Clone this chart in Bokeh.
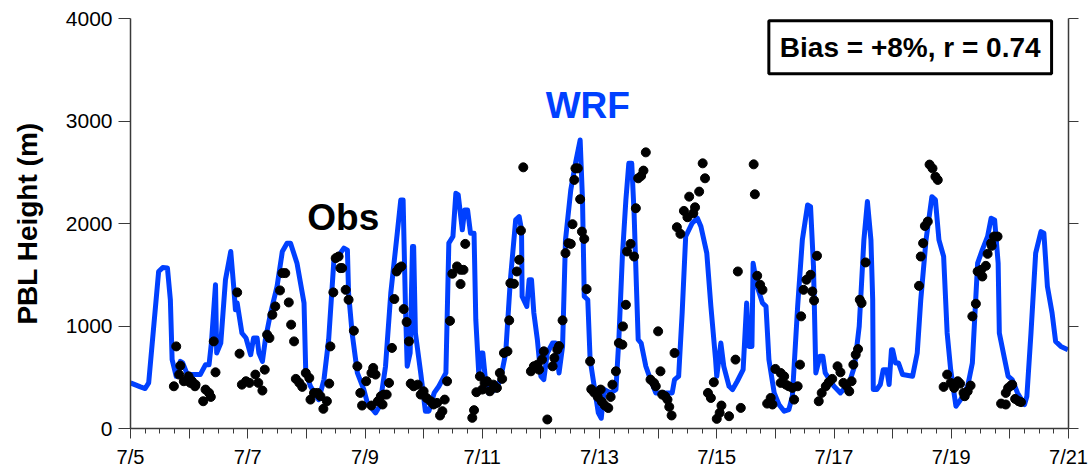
from bokeh.plotting import figure
from bokeh.models import FixedTicker, Label, LinearAxis, Range1d
from bokeh.embed import file_html
from bokeh.resources import INLINE

# ---- data (days since 7/5 00:00) ----
wrf_day = [0.00, 0.17, 0.25, 0.31, 0.48, 0.55, 0.63, 0.68, 0.71, 0.78, 0.85, 0.89, 0.97,
           1.19, 1.28, 1.34, 1.38, 1.45, 1.47, 1.54, 1.62, 1.71, 1.76, 1.79, 1.82, 1.90, 1.97,
           2.05, 2.10, 2.16, 2.19, 2.25, 2.30, 2.39, 2.50, 2.59, 2.67, 2.73, 2.84, 2.96, 2.99,
           3.07, 3.21, 3.30, 3.38, 3.47, 3.58, 3.64, 3.70, 3.72, 3.78, 3.87, 3.98,
           4.04, 4.18, 4.25, 4.35, 4.44, 4.55, 4.61, 4.65, 4.69, 4.72, 4.77, 4.81, 4.83, 4.86, 4.95,
           5.03, 5.09, 5.18, 5.26, 5.38, 5.43, 5.50, 5.55, 5.59, 5.66, 5.70, 5.75, 5.80, 5.86, 5.89, 5.94, 5.98,
           6.01, 6.06, 6.11, 6.23, 6.31, 6.40, 6.48, 6.57, 6.63, 6.67, 6.68, 6.76, 6.80, 6.84, 6.88, 6.94,
           7.00, 7.05, 7.11, 7.20, 7.25, 7.31, 7.37, 7.42, 7.51, 7.59, 7.67, 7.71, 7.74, 7.80, 7.84, 7.91, 7.98,
           8.03, 8.08, 8.19, 8.28, 8.33, 8.39, 8.45, 8.50, 8.55, 8.59, 8.63, 8.66, 8.71, 8.79, 8.87, 8.96,
           9.24, 9.28, 9.35, 9.41, 9.47, 9.58, 9.67, 9.73, 9.83, 9.90, 9.98,
           10.00, 10.07, 10.12, 10.21, 10.27, 10.35, 10.45, 10.51, 10.55, 10.60, 10.62, 10.69, 10.78, 10.84, 10.89, 10.98,
           11.06, 11.15, 11.23, 11.29, 11.38, 11.46, 11.55, 11.60, 11.65, 11.69, 11.76, 11.81, 11.85,
           12.00, 12.11, 12.26, 12.35, 12.43, 12.51, 12.57, 12.63, 12.66, 12.67, 12.73, 12.79, 12.84, 12.90, 12.94, 12.98,
           13.00, 13.05, 13.10, 13.17, 13.34, 13.42, 13.48, 13.57, 13.67, 13.73, 13.79, 13.87, 13.93, 13.99,
           14.08, 14.16, 14.28, 14.36, 14.45, 14.53, 14.62, 14.68, 14.74, 14.80, 14.82, 14.90, 14.97,
           15.04, 15.13, 15.25, 15.29, 15.36, 15.44, 15.53, 15.58, 15.64, 15.72, 15.78, 15.87, 15.99]
wrf_pbl = [445, 406, 390, 445, 1532, 1570, 1565, 1256, 672, 509, 655, 640, 526,
           526, 623, 623, 834, 1402, 737, 834, 1451, 1727, 1386, 1159, 1224, 932, 883,
           720, 883, 883, 737, 655, 867, 1127, 1386, 1727, 1808, 1808, 1613, 1224, 542,
           412, 282, 477, 867, 1646, 1711, 1760, 1740, 1321, 932, 542, 380,
           250, 153, 217, 607, 1321, 1905, 2230, 2230, 1191, 607, 737, 1775, 1775, 932, 542,
           169, 169, 347, 412, 542, 1808, 1873, 2295, 2279, 1938, 2132, 2132, 1905, 1905, 1061, 542, 737,
           737, 445, 347, 380, 477, 737, 1451, 2035, 2067, 1938, 1288, 1191, 1451, 1451, 1127, 867,
           509, 477, 737, 834, 834, 542, 801, 1840, 2327, 2587, 2814, 2230, 1288, 1256, 672, 412, 153,
           100, 380, 347, 380, 867, 1678, 2230, 2587, 2587, 2100, 1386, 867, 834, 607, 477, 347,
           347, 477, 509, 1127, 1873, 2003, 2051, 1970, 1711, 1191, 672,
           509, 834, 607, 412, 380, 461, 574, 1224, 801, 801, 1613, 1386, 1224, 1191, 672, 347,
           234, 169, 185, 315, 1191, 1840, 2181, 2165, 1581, 542, 704, 704, 542,
           412, 347, 445, 607, 996, 1840, 2214, 1840, 1256, 380, 380, 429, 574, 574, 429, 769,
           769, 639, 639, 526, 509, 737, 1256, 1840, 2262, 2230, 1840, 1678, 932, 574,
           217, 282, 412, 639, 1613, 1743, 1873, 2051, 2035, 1613, 932, 704, 509,
           477, 347, 234, 315, 932, 1711, 1921, 1905, 1386, 1127, 850, 801, 769]

obs_day = [0.74, 0.78, 0.83, 0.85, 0.91, 0.99, 1.02, 1.05, 1.10, 1.11, 1.24, 1.28, 1.34, 1.37, 1.42, 1.45,
           1.82, 1.86, 1.90, 1.97, 2.03, 2.13, 2.18, 2.25, 2.29, 2.33, 2.37, 2.42, 2.47, 2.55, 2.59, 2.64,
           2.70, 2.74, 2.79, 2.82, 2.88, 2.93, 2.99, 3.05, 3.07, 3.13, 3.19, 3.24, 3.29, 3.35, 3.39, 3.41,
           3.46, 3.50, 3.55, 3.58, 3.61, 3.67, 3.72, 3.81, 3.87, 3.92, 3.95, 4.02, 4.11, 4.11, 4.14, 4.18,
           4.22, 4.27, 4.30, 4.32, 4.37, 4.41, 4.46, 4.50, 4.54, 4.58, 4.62, 4.66, 4.71, 4.75, 4.78, 4.83,
           4.90, 4.95, 5.00, 5.05, 5.12, 5.17, 5.23, 5.28, 5.32, 5.36, 5.40, 5.45, 5.49, 5.57, 5.63, 5.68,
           5.63, 5.71, 5.83, 5.86, 5.90, 5.96, 6.00, 6.04, 6.08, 6.13, 6.19, 6.25, 6.30, 6.34, 6.37, 6.43,
           6.46, 6.48, 6.54, 6.59, 6.63, 6.66, 6.70, 6.83, 6.88, 6.94, 6.97, 7.02, 7.05, 7.11, 7.20, 7.23,
           7.28, 7.31, 7.37, 7.42, 7.47, 7.51, 7.54, 7.57, 7.59, 7.63, 7.67, 7.70, 7.74, 7.78, 7.84, 7.86,
           7.91, 7.97, 8.02, 8.04, 8.09, 8.15, 8.19, 8.22, 8.28, 8.33, 8.39, 8.40, 8.45, 8.47, 8.53, 8.59,
           8.62, 8.66, 8.71, 8.75, 8.79, 8.87, 8.93, 8.96, 9.00, 9.04, 9.07, 9.12, 9.16, 9.19, 9.23, 9.28,
           9.32, 9.38, 9.44, 9.50, 9.53, 9.60, 9.63, 9.70, 9.76, 9.80, 9.85, 9.90, 9.95, 10.00, 10.05, 10.08,
           10.21, 10.32, 10.36, 10.41, 10.63, 10.65, 10.69, 10.74, 10.78, 10.86, 10.92, 10.95, 11.00, 11.09,
           11.09, 11.15, 11.18, 11.23, 11.29, 11.32, 11.38, 11.42, 11.44, 11.48, 11.53, 11.60, 11.63, 11.66,
           11.71, 11.74, 11.79, 11.86, 11.91, 11.97, 12.06, 12.11, 12.16, 12.21, 12.26, 12.30, 12.33, 12.37,
           12.41, 12.44, 12.47, 12.54, 13.45, 13.48, 13.52, 13.55, 13.60, 13.63, 13.68, 13.73, 13.77, 13.87,
           13.93, 13.99, 14.05, 14.11, 14.15, 14.21, 14.23, 14.28, 14.33, 14.36, 14.42, 14.45, 14.51, 14.53,
           14.59, 14.62, 14.68, 14.69, 14.73, 14.79, 14.85, 14.93, 14.93, 14.97, 15.02, 15.04, 15.09, 15.15,
           15.19]
obs_pbl = [412, 801, 526, 613, 461, 509, 445, 461, 412, 428, 266, 380, 347, 308, 850, 548,
           1328, 730, 428, 461, 445, 526, 445, 370, 574, 915, 883, 1110, 1191, 1347, 1516, 1516,
           1230, 1013, 850, 484, 445, 406, 542, 493, 282, 347, 347, 315, 192, 266, 438, 801,
           1328, 1662, 1678, 1565, 1565, 1353, 1256, 954, 607, 347, 224, 461, 542, 224, 591, 526,
           266, 315, 234, 331, 331, 445, 786, 1263, 1532, 1565, 1581, 1165, 1039, 850, 438, 412,
           428, 331, 363, 298, 266, 234, 250, 127, 169, 282, 461, 1050, 1510, 1581, 1548, 1548,
           1409, 1801, 104, 179, 354, 509, 380, 445, 461, 363, 428, 396, 542, 484, 737, 753,
           1055, 1418, 1412, 1532, 1646, 1931, 2548, 558, 607, 623, 574, 672, 753, 88, 607, 688,
           769, 804, 1055, 1711, 1808, 1801, 1993, 2425, 2538, 2538, 2237, 1921, 1850, 1360, 655, 383,
           350, 308, 380, 260, 225, 200, 308, 428, 558, 834, 818, 996, 1207, 1727, 1801, 1678,
           2149, 2441, 2464, 2516, 2694, 477, 445, 412, 948, 558, 331, 315, 282, 211, 127, 737,
           1964, 1899, 2123, 2061, 2262, 2100, 2158, 2311, 2587, 2441, 347, 298, 451, 94, 153, 224,
           120, 672, 1532, 201, 2577, 2285, 1490, 1402, 1353, 243, 298, 234, 581, 542,
           445, 509, 428, 412, 396, 282, 412, 623, 1094, 1353, 1451, 1500, 1337, 1249,
           1685, 266, 347, 412, 451, 484, 607, 548, 445, 419, 363, 461, 623, 720,
           775, 1256, 1224, 1620, 1392, 1678, 1808, 1976, 2019, 2575, 2538, 2457, 2425, 406,
           526, 445, 396, 461, 438, 347, 315, 363, 419, 1094, 1217, 1532, 1548, 1483,
           1587, 1704, 1808, 1782, 1873, 1873, 243, 234, 347, 396, 419, 428, 289, 266,
           257]

x_tick_days = list(range(0, 17))
x_tick_labels = {0: "7/5", 2: "7/7", 4: "7/9", 6: "7/11", 8: "7/13",
                 10: "7/15", 12: "7/17", 14: "7/19", 16: "7/21"}
y_ticks = [0, 1000, 2000, 3000, 4000]

FONT = "Liberation Sans"
BLUE = "#0040FF"
AXIS = "#3a3a3a"

p = figure(width=1089, height=470, output_backend="svg", toolbar_location=None,
           x_range=Range1d(0, 16), y_range=Range1d(0, 4000),
           min_border_left=130, min_border_right=21, min_border_top=18, min_border_bottom=41)
p.outline_line_color = None
p.grid.visible = False
p.background_fill_color = "white"
p.border_fill_color = "white"

p.line(wrf_day, wrf_pbl, line_color=BLUE, line_width=5, line_join="round")
p.scatter(obs_day, obs_pbl, size=9, color="black")

# x axis
xa = p.xaxis[0]
xa.ticker = FixedTicker(ticks=x_tick_days, minor_ticks=[i * 0.25 for i in range(65)])
xa.major_label_overrides = {d: x_tick_labels.get(d, "") for d in x_tick_days}
xa.major_tick_in = 0
xa.major_tick_out = 10
xa.minor_tick_in = 0
xa.minor_tick_out = 5
xa.axis_line_color = AXIS
xa.major_tick_line_color = AXIS
xa.minor_tick_line_color = AXIS
xa.axis_line_width = 1.5
xa.major_label_text_font = FONT
xa.major_label_text_font_size = "20px"
xa.major_label_text_color = "black"
xa.major_label_standoff = 7

# y axis
ya = p.yaxis[0]
ya.ticker = FixedTicker(ticks=y_ticks, minor_ticks=[])
ya.major_tick_in = 0
ya.major_tick_out = 12
ya.axis_line_color = AXIS
ya.major_tick_line_color = AXIS
ya.axis_line_width = 1.5
ya.major_label_text_font = FONT
ya.major_label_text_font_size = "21px"
ya.major_label_text_color = "black"
ya.major_label_standoff = 6
ya.axis_label = "PBL Height (m)"
ya.axis_label_text_font = FONT
ya.axis_label_text_font_size = "28px"
ya.axis_label_text_font_style = "bold"
ya.axis_label_text_color = "black"
ya.axis_label_standoff = 20

ra = LinearAxis(ticker=FixedTicker(ticks=y_ticks, minor_ticks=[]))
ra.major_tick_in = 0
ra.major_tick_out = 10
ra.major_label_text_font_size = "0px"
ra.major_label_text_color = None
ra.axis_line_color = AXIS
ra.major_tick_line_color = AXIS
ra.axis_line_width = 1.5
p.add_layout(ra, "right")

p.add_layout(Label(x=3.63, y=2054, text="Obs", text_align="center", text_baseline="middle",
                   text_font=FONT, text_font_size="37px", text_font_style="bold",
                   text_color="black"))
p.add_layout(Label(x=7.8, y=3155, text="WRF", text_align="center", text_baseline="middle",
                   text_font=FONT, text_font_size="37px", text_font_style="bold",
                   text_color=BLUE))
p.add_layout(Label(x=13.30, y=3720, text="Bias = +8%, r = 0.74", text_align="center",
                   text_baseline="middle", text_font=FONT, text_font_size="28px",
                   text_font_style="bold", text_color="black",
                   border_line_color="black", border_line_width=3,
                   background_fill_color="white", padding=11))

open("out.html", "w").write(file_html(p, INLINE))
